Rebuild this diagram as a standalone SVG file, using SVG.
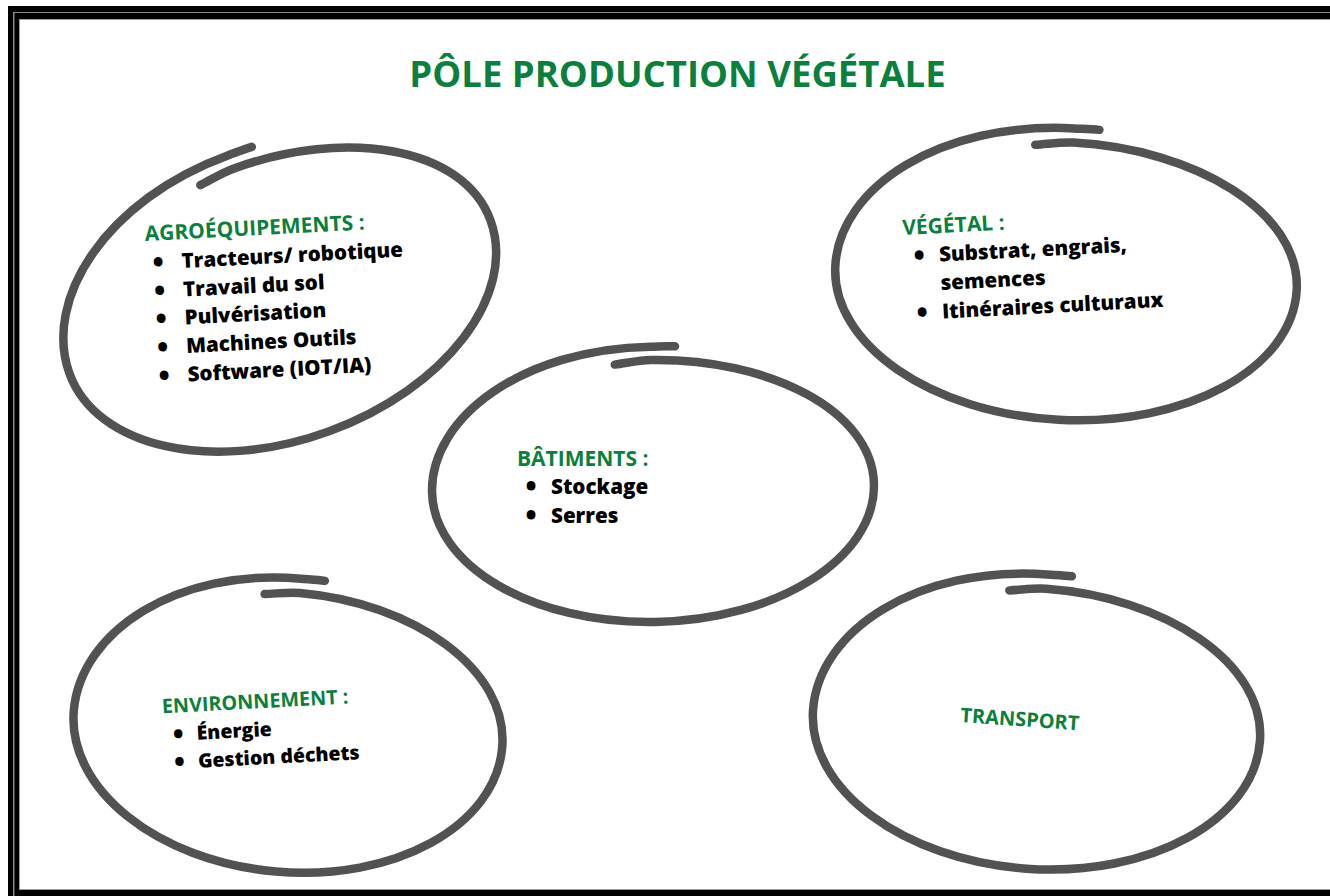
<svg xmlns="http://www.w3.org/2000/svg" width="1330" height="896" viewBox="0 0 1330 896">
<style>
.hd{font-family:"Open Sans","Liberation Sans",sans-serif;font-weight:700;font-size:21px;fill:#0b7f3c}
.it{font-family:"Open Sans","Liberation Sans",sans-serif;font-weight:800;font-size:20.6px;fill:#000}
.bl{font-family:"Open Sans","Liberation Sans",sans-serif;font-weight:800;font-size:20.6px;fill:#000;stroke:#000;stroke-width:2.2;text-anchor:middle}
.sm .hd{font-size:19.8px}
.sm .it{font-size:19.5px}
.sm .bl{font-size:19.5px}
.ring{fill:none;stroke:#525252;stroke-width:8.5;stroke-linecap:round;stroke-linejoin:round;vector-effect:non-scaling-stroke}
.title{font-family:"Open Sans","Liberation Sans",sans-serif;font-weight:700;font-size:36.5px;fill:#0b7f3c;text-anchor:middle}
</style>
<g id="frame">
<rect x="0" y="0" width="1330" height="896" fill="#fff"/>
<rect x="8" y="6" width="1400" height="1000" fill="#000"/>
<rect x="13" y="12" width="1400" height="1000" fill="#8c8c8c"/>
<rect x="14.5" y="13" width="1400" height="1000" fill="#000"/>
<rect x="19" y="19" width="1400" height="871" fill="#9a9a9a"/>
<rect x="20" y="20" width="1400" height="869" fill="#fff"/>
</g>
<g id="title"><text class="title" x="677.5" y="87">PÔLE PRODUCTION VÉGÉTALE</text></g>
<g id="connectors"></g>
<g id="agroequipements">
<path class="ring" transform="translate(280 297) rotate(-20) scale(224 143)" d="M -0.1632 -0.9257 C -0.1093 -0.9352 -0.0556 -0.955 0 -0.955 C 0.5274 -0.955 1 -0.5523 1 0 C 1 0.5523 0.5523 1 0 1 C -0.5523 1 -1 0.5523 -1 0 C -1 -0.5523 -0.5827 -1.055 0 -1.055 C 0.0368 -1.055 0.0740 -1.0581 0.1108 -1.0542"/>
<g transform="rotate(-3 145 241)">
<text class="hd" x="145" y="241">AGROÉQUIPEMENTS :</text>
<text class="bl" x="157" y="270">•</text><text class="it" x="180.5" y="270">Tracteurs/ robotique</text>
<text class="bl" x="157" y="298.5">•</text><text class="it" x="180.5" y="298.5">Travail du sol</text>
<text class="bl" x="157" y="326.5">•</text><text class="it" x="180.5" y="326.5">Pulvérisation</text>
<text class="bl" x="157" y="355">•</text><text class="it" x="180.5" y="355">Machines Outils</text>
<text class="bl" x="157" y="383.5">•</text><text class="it" x="180.5" y="383.5">Software (IOT/IA)</text>
</g>
</g>
<g id="vegetal">
<path class="ring" transform="translate(1066 278) rotate(3) scale(231 142)" d="M -0.1632 -0.9257 C -0.1093 -0.9352 -0.0556 -0.955 0 -0.955 C 0.5274 -0.955 1 -0.5523 1 0 C 1 0.5523 0.5523 1 0 1 C -0.5523 1 -1 0.5523 -1 0 C -1 -0.5523 -0.5827 -1.055 0 -1.055 C 0.0368 -1.055 0.0740 -1.0581 0.1108 -1.0542"/>
<g transform="rotate(-3 902.7 235)">
<text class="hd" x="902.7" y="235">VÉGÉTAL :</text>
<text class="bl" x="918" y="263.5">•</text><text class="it" x="938" y="263.5">Substrat, engrais,</text>
<text class="it" x="938" y="292">semences</text>
<text class="bl" x="918" y="320.5">•</text><text class="it" x="938" y="320.5">Itinéraires culturaux</text>
</g>
</g>
<g id="batiments">
<path class="ring" transform="translate(653 488) rotate(-1) scale(221 134)" d="M -0.1632 -0.9257 C -0.1093 -0.9352 -0.0556 -0.955 0 -0.955 C 0.5274 -0.955 1 -0.5523 1 0 C 1 0.5523 0.5523 1 0 1 C -0.5523 1 -1 0.5523 -1 0 C -1 -0.5523 -0.5827 -1.055 0 -1.055 C 0.0368 -1.055 0.0740 -1.0581 0.1108 -1.0542"/>
<text class="hd" x="517" y="466">BÂTIMENTS :</text>
<text class="bl" x="531" y="494">•</text><text class="it" x="551" y="494">Stockage</text>
<text class="bl" x="531" y="522.5">•</text><text class="it" x="551" y="522.5">Serres</text>
</g>
<g id="environnement" class="sm">
<path class="ring" transform="translate(288 729) rotate(5) scale(215 143)" d="M -0.1632 -0.9257 C -0.1093 -0.9352 -0.0556 -0.955 0 -0.955 C 0.5274 -0.955 1 -0.5523 1 0 C 1 0.5523 0.5523 1 0 1 C -0.5523 1 -1 0.5523 -1 0 C -1 -0.5523 -0.5827 -1.055 0 -1.055 C 0.0368 -1.055 0.0740 -1.0581 0.1108 -1.0542"/>
<g transform="rotate(-3 162.3 713.3)">
<text class="hd" x="162.3" y="713.3">ENVIRONNEMENT :</text>
<text class="bl" x="177" y="741.5">•</text><text class="it" x="195.5" y="741.5">Énergie</text>
<text class="bl" x="177" y="769.5">•</text><text class="it" x="195.5" y="769.5">Gestion déchets</text>
</g>
</g>
<g id="transport">
<path class="ring" transform="translate(1036.5 725.5) rotate(4) scale(224 143.5)" d="M -0.1632 -0.9257 C -0.1093 -0.9352 -0.0556 -0.955 0 -0.955 C 0.5274 -0.955 1 -0.5523 1 0 C 1 0.5523 0.5523 1 0 1 C -0.5523 1 -1 0.5523 -1 0 C -1 -0.5523 -0.5827 -1.055 0 -1.055 C 0.0368 -1.055 0.0740 -1.0581 0.1108 -1.0542"/>
<text class="hd" x="960" y="722" style="font-size:20px" transform="rotate(4 960 722)">TRANSPORT</text>
</g>
</svg>
